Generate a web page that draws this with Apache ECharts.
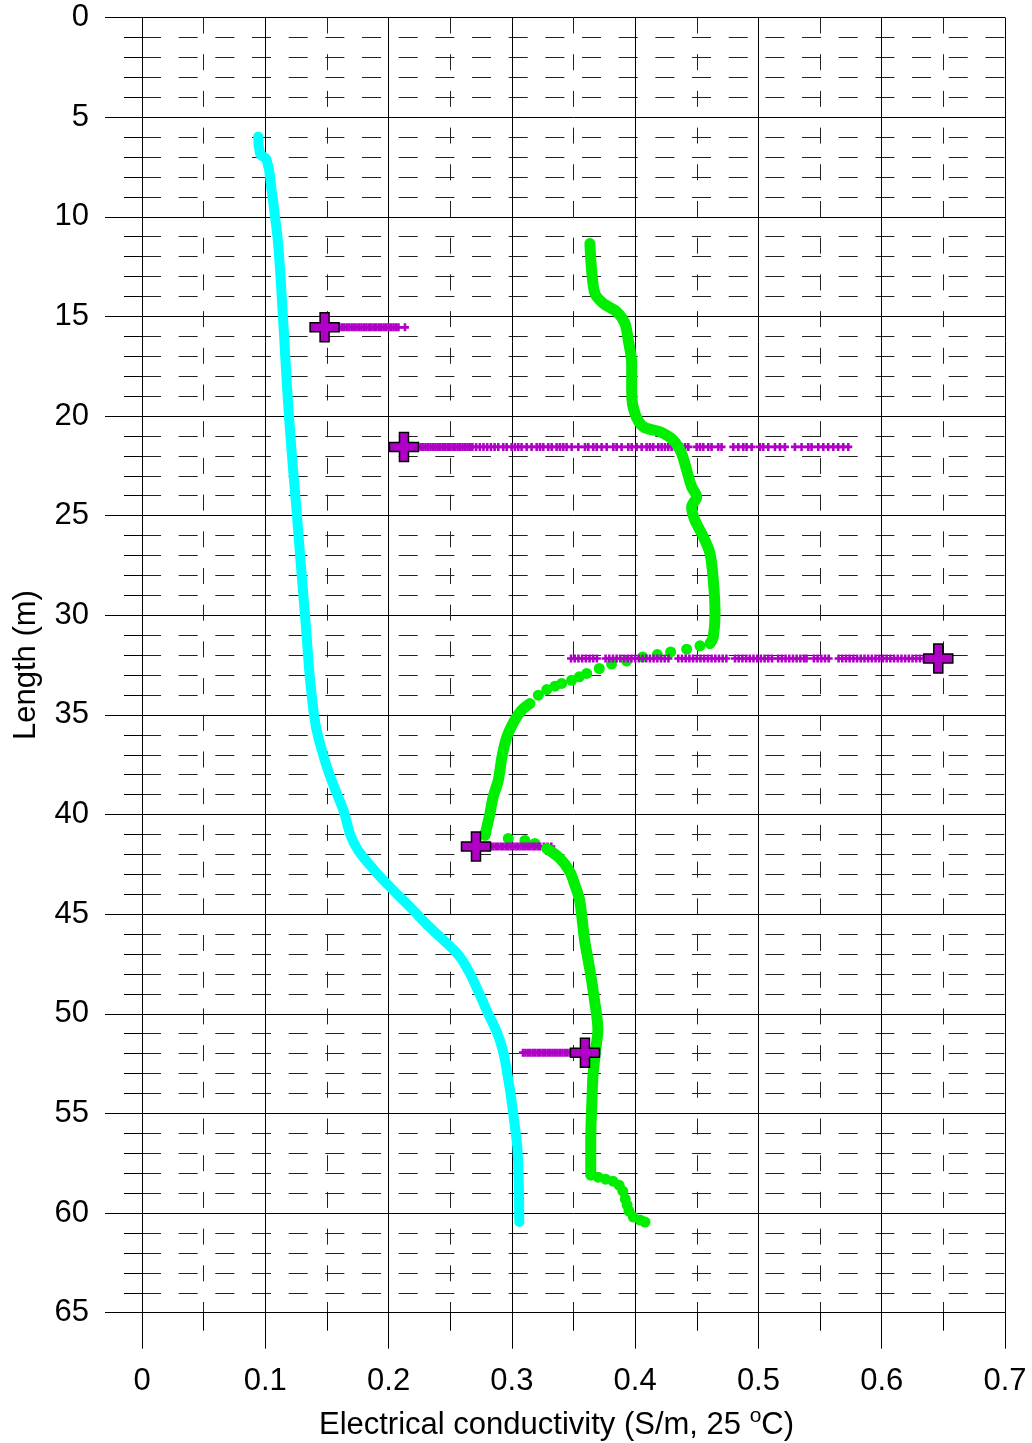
<!DOCTYPE html>
<html>
<head>
<meta charset="utf-8">
<script src="https://cdn.jsdelivr.net/npm/echarts@6/dist/echarts.min.js"></script>
<style>
  html, body { margin: 0; padding: 0; background: #fff; }
  #chart { width: 1032px; height: 1443px; }
</style>
</head>
<body>
<div id="chart"></div>
<script>
// Axis tick values
const xTicks = [0, 0.1, 0.2, 0.3, 0.4, 0.5, 0.6, 0.7];
const yTicks = [0, 5, 10, 15, 20, 25, 30, 35, 40, 45, 50, 55, 60, 65];

// Cyan profile: conductivity (S/m) vs length (m)
const cyanX = [0.0943, 0.0957, 0.1011, 0.1051, 0.1079, 0.1106, 0.1143, 0.1192, 0.1257, 0.1322, 0.1395, 0.1460, 0.1538, 0.1633, 0.1714, 0.1849, 0.2011, 0.2200, 0.2300, 0.2417, 0.2505, 0.2579, 0.2635, 0.2687, 0.2795, 0.2903, 0.2958, 0.3011, 0.3052, 0.3060];
const cyanY = [5.98, 6.82, 7.15, 8.66, 10.0, 11.5, 15.0, 20.0, 25.0, 30.0, 35.0, 36.8, 38.28, 39.78, 41.37, 42.54, 43.63, 44.80, 45.45, 46.14, 46.65, 47.15, 47.70, 48.32, 49.82, 51.33, 52.83, 55.01, 57.52, 60.45];

// Green profile, upper continuous part
const greenUpperX = [0.3633, 0.3647, 0.3674, 0.3742, 0.3850, 0.3917, 0.3944, 0.3972, 0.3972, 0.3998, 0.4066, 0.4201, 0.4309, 0.4377, 0.4418, 0.4458, 0.4499, 0.4458, 0.4485, 0.4553, 0.4607, 0.4634, 0.4648, 0.4634, 0.4607];
const greenUpperY = [11.34, 12.68, 13.85, 14.35, 14.77, 15.35, 16.19, 17.36, 18.87, 19.87, 20.54, 20.79, 21.21, 21.88, 22.72, 23.55, 24.06, 24.56, 25.23, 26.06, 26.90, 28.24, 29.91, 31.08, 31.42];
// Green profile, scattered readings across the 32 m step
const greenStepX = [0.4526, 0.4418, 0.4288, 0.4180, 0.4061, 0.3931, 0.3809, 0.3709, 0.3607, 0.3547, 0.3485, 0.3404, 0.3350, 0.3283, 0.3215];
const greenStepY = [31.53, 31.70, 31.84, 31.97, 32.09, 32.30, 32.45, 32.67, 32.92, 33.09, 33.26, 33.42, 33.56, 33.73, 34.01];
// Green profile, middle continuous part
const greenMidX = [0.3147, 0.3080, 0.3020, 0.2960, 0.2920, 0.2890, 0.2849, 0.2822, 0.2782];
const greenMidY = [34.43, 34.76, 35.3, 36.1, 37.1, 38.28, 39.1, 39.95, 41.04];
// Green profile, scattered readings at 41 m
const greenGapX = [0.2971, 0.3106, 0.3187];
const greenGapY = [41.2, 41.3, 41.45];
// Green profile, lower continuous part
const greenLowerX = [0.3283, 0.3390, 0.3471, 0.3512, 0.3550, 0.3590, 0.3633, 0.3670, 0.3698, 0.3680, 0.3658, 0.3650, 0.3640, 0.3640];
const greenLowerY = [41.71, 42.2, 42.88, 43.55, 44.3, 46.3, 47.8, 49.3, 50.8, 51.8, 53.1, 54.3, 56.3, 58.1];
// Green profile, scattered readings at the bottom
const greenTailX = [0.3700, 0.3760, 0.3820, 0.3870, 0.3900, 0.3920, 0.3935, 0.3950, 0.3985, 0.4040, 0.4080];
const greenTailY = [58.2, 58.3, 58.4, 58.6, 58.9, 59.3, 59.6, 59.9, 60.2, 60.35, 60.45];

// Point readings (large markers) and their depths
const pointDepth = [15.55, 21.55, 32.17, 41.6, 51.95];
const pointX = [0.1481, 0.2125, 0.6459, 0.2709, 0.3593];

// Logged readings at each point depth (small markers)
const log1X = [0.158, 0.160, 0.162, 0.164, 0.166, 0.168, 0.170, 0.172, 0.174, 0.176, 0.178, 0.180, 0.182, 0.184, 0.186, 0.188, 0.190, 0.192, 0.194, 0.196, 0.198, 0.200, 0.202, 0.204, 0.206, 0.208, 0.2133];
const log2X = [0.226, 0.228, 0.230, 0.232, 0.234, 0.236, 0.238, 0.240, 0.242, 0.244, 0.246, 0.248, 0.250, 0.252, 0.254, 0.256, 0.258, 0.260, 0.262, 0.264, 0.266, 0.268, 0.271, 0.274, 0.277, 0.280, 0.283, 0.286, 0.289,
  0.2930, 0.2958, 0.2998, 0.3025, 0.3052, 0.3079, 0.3120, 0.3160, 0.3201, 0.3228, 0.3255, 0.3295, 0.3323, 0.3363, 0.3390, 0.3417, 0.3444, 0.3485,
  0.3539, 0.3593, 0.3620, 0.3660, 0.3688, 0.3728, 0.3769, 0.3823, 0.3850, 0.3890, 0.3944, 0.3972, 0.4012, 0.4053, 0.4093, 0.4120, 0.4147, 0.4188,
  0.4215, 0.4242, 0.4269, 0.4296, 0.4323, 0.4350, 0.4377, 0.4404, 0.4431, 0.4499, 0.4526, 0.4553, 0.4593, 0.4620, 0.4674, 0.4701, 0.4796, 0.4837,
  0.4877, 0.4904, 0.4945, 0.5012, 0.5039, 0.5080, 0.5134, 0.5174, 0.5215, 0.5296, 0.5350, 0.5404, 0.5431, 0.5485, 0.5526, 0.5566, 0.5607, 0.5647,
  0.5688, 0.5729];
const log3X = [0.348, 0.351, 0.354, 0.357, 0.360, 0.363, 0.366, 0.369,
  0.376, 0.379, 0.382, 0.385, 0.388, 0.391, 0.394, 0.397, 0.400, 0.403, 0.406, 0.409, 0.412, 0.415, 0.418, 0.421, 0.424, 0.427,
  0.435, 0.438, 0.441, 0.444, 0.447, 0.450, 0.453, 0.456, 0.459, 0.462, 0.465, 0.468, 0.471, 0.474,
  0.481, 0.484, 0.487, 0.490, 0.493, 0.496, 0.499, 0.502, 0.505, 0.508, 0.511,
  0.516, 0.519, 0.522, 0.525, 0.528, 0.531, 0.534, 0.537, 0.539,
  0.545, 0.548, 0.551, 0.554, 0.557,
  0.565, 0.568, 0.571, 0.574, 0.577, 0.580, 0.583, 0.586, 0.589, 0.592, 0.595, 0.598, 0.601, 0.604, 0.607, 0.610, 0.613, 0.616, 0.619, 0.622, 0.625, 0.628, 0.631, 0.634];
const log4X = [0.283, 0.285, 0.287, 0.289, 0.291, 0.293, 0.295, 0.297, 0.299, 0.301, 0.303, 0.305, 0.307, 0.309, 0.311, 0.313, 0.315, 0.317, 0.319, 0.321, 0.323, 0.326, 0.329, 0.332];
const log5X = [0.309, 0.311, 0.313, 0.315, 0.317, 0.319, 0.321, 0.323, 0.325, 0.327, 0.329, 0.331, 0.333, 0.335, 0.337, 0.339, 0.341, 0.343, 0.345, 0.347, 0.349];
const logSets = [log1X, log2X, log3X, log4X, log5X];

const CYAN = '#00ffff';
const GREEN = '#00ee00';
const PURPLE = '#b000c8';
const FONT = 'Liberation Sans, Arial, sans-serif';

const bigPlus = 'path://M10,0H19V10H29V19H19V29H10V19H0V10H10Z';
const smallPlus = 'path://M2.7,0H5.3V2.7H8V5.3H5.3V8H2.7V5.3H0V2.7H2.7Z';

const pairs = (xs, ys) => xs.map((x, i) => [x, ys[i]]);

const lineSeries = (xs, ys, color, width, smooth) => ({
  type: 'line',
  data: pairs(xs, ys),
  showSymbol: false,
  smooth: smooth,
  lineStyle: { color: color, width: width, cap: 'round', join: 'round' },
  silent: true
});
const dotSeries = (xs, ys, color, size) => ({
  type: 'scatter',
  data: pairs(xs, ys),
  symbol: 'circle',
  symbolSize: size,
  itemStyle: { color: color, opacity: 1 },
  silent: true
});

const series = [
  lineSeries(cyanX, cyanY, CYAN, 10, 0.5),
  lineSeries(greenUpperX, greenUpperY, GREEN, 11, 0.3),
  dotSeries(greenStepX, greenStepY, GREEN, 11),
  lineSeries(greenMidX, greenMidY, GREEN, 11, 0.3),
  dotSeries(greenGapX, greenGapY, GREEN, 11),
  lineSeries(greenLowerX, greenLowerY, GREEN, 11, 0.3),
  dotSeries(greenTailX, greenTailY, GREEN, 11)
];
logSets.forEach((xs, i) => {
  series.push({
    type: 'scatter',
    data: xs.map(x => [x, pointDepth[i]]),
    symbol: smallPlus,
    symbolSize: 8,
    itemStyle: { color: PURPLE, opacity: 1 },
    silent: true
  });
});
series.push({
  type: 'scatter',
  data: pointX.map((x, i) => [x, pointDepth[i]]),
  symbol: bigPlus,
  symbolSize: 29,
  itemStyle: { color: PURPLE, borderColor: '#000', borderWidth: 1.5, opacity: 1 },
  silent: true,
  z: 5
});

const chart = echarts.init(document.getElementById('chart'), null, { renderer: 'canvas' });
chart.setOption({
  animation: false,
  backgroundColor: '#fff',
  grid: { left: 142, right: 27, top: 17.5, bottom: 130.3, containLabel: false, outerBoundsMode: 'none' },
  xAxis: {
    type: 'value',
    min: xTicks[0],
    max: xTicks[xTicks.length - 1],
    interval: 0.1,
    position: 'bottom',
    axisLine: { show: true, onZero: false, lineStyle: { color: '#000', width: 1 } },
    axisTick: { show: true, inside: false, length: 36, lineStyle: { color: '#000', width: 1 } },
    minorTick: { show: true, splitNumber: 2, length: 18, lineStyle: { color: '#000', width: 1 } },
    splitLine: { show: true, lineStyle: { color: '#000', width: 1 } },
    minorSplitLine: { show: true, lineStyle: { color: '#222', width: 1, type: [16, 20.7], dashOffset: 0 } },
    axisLabel: {
      margin: 53, fontSize: 31, color: '#000', fontFamily: FONT,
      formatter: v => String(Number(v.toFixed(1)))
    },
    name: 'Electrical conductivity (S/m, 25 {sup|o}C)',
    nameLocation: 'middle',
    nameGap: 93,
    nameTextStyle: {
      fontSize: 31, lineHeight: 40, color: '#000', fontFamily: FONT,
      padding: [0, 34, 0, 0],
      rich: { sup: { fontSize: 21, lineHeight: 21, color: '#000', fontFamily: FONT, verticalAlign: 'top' } }
    }
  },
  yAxis: {
    type: 'value',
    inverse: true,
    min: yTicks[0],
    max: yTicks[yTicks.length - 1],
    interval: 5,
    axisLine: { show: true, onZero: false, lineStyle: { color: '#000', width: 1 } },
    axisTick: { show: true, inside: false, length: 37, lineStyle: { color: '#000', width: 1 } },
    minorTick: { show: true, splitNumber: 5, length: 18, lineStyle: { color: '#000', width: 1 } },
    splitLine: { show: true, lineStyle: { color: '#000', width: 1 } },
    minorSplitLine: { show: true, lineStyle: { color: '#222', width: 1, type: [19, 17.67], dashOffset: 0 } },
    axisLabel: { margin: 53, fontSize: 31, color: '#000', fontFamily: FONT, padding: [4, 0, 0, 0] },
    name: 'Length (m)',
    nameLocation: 'middle',
    nameGap: 100,
    nameRotate: 90,
    nameTextStyle: { fontSize: 31, color: '#000', fontFamily: FONT }
  },
  series: series
});
</script>
</body>
</html>
